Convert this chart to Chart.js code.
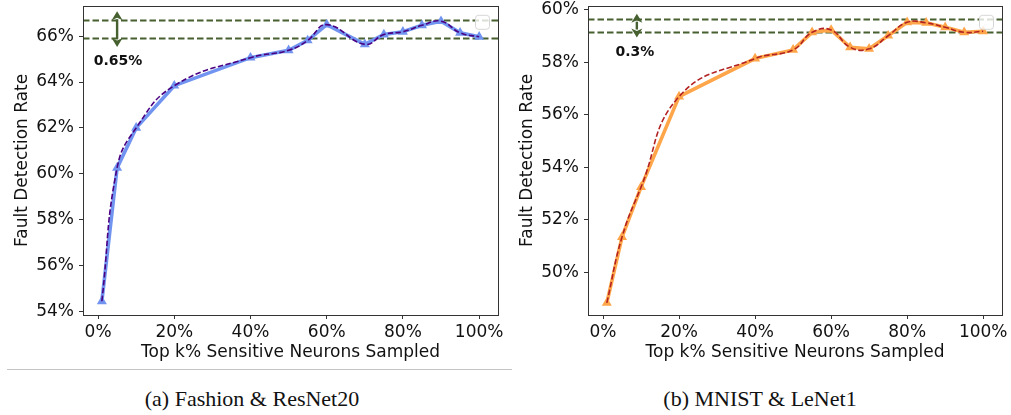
<!DOCTYPE html>
<html><head><meta charset="utf-8">
<script src="https://cdn.jsdelivr.net/npm/chart.js@4.4.1/dist/chart.umd.min.js"></script>
<style>
html,body{margin:0;padding:0;background:#fff;}
body{width:1011px;height:415px;position:relative;overflow:hidden;}
.box{position:absolute;top:0;height:370px;}
#wa{left:0;width:505px;}
#wb{left:505px;width:506px;}
.cap{position:absolute;top:386px;line-height:26px;font-family:"Liberation Serif",serif;font-size:22px;color:#111;white-space:nowrap;transform:translateX(-50%);}
.sep{position:absolute;left:7px;top:369px;width:505px;height:1px;background:#c4c4c4;}
</style></head>
<body>
<div class="box" id="wa"><canvas id="ca" width="505" height="370"></canvas></div>
<div class="box" id="wb"><canvas id="cb" width="506" height="370"></canvas></div>
<div class="sep"></div>
<div class="cap" style="left:252px">(a) Fashion &amp; ResNet20</div>
<div class="cap" style="left:760px">(b) MNIST &amp; LeNet1</div>
<script>
// ---- data ----
const xA = [1, 5, 10, 20, 40, 50, 55, 60, 70, 75, 80, 85, 90, 95, 100];
const yA = [54.45, 60.26, 62.0, 63.84, 65.06, 65.38, 65.81, 66.5, 65.64, 66.07, 66.19, 66.47, 66.65, 66.14, 65.97];
const xB = [1, 5, 10, 20, 40, 50, 55, 60, 65, 70, 75, 80, 85, 90, 95, 100];
const yB = [48.84, 51.35, 53.25, 56.70, 58.15, 58.48, 59.15, 59.24, 58.58, 58.52, 59.02, 59.53, 59.51, 59.34, 59.15, 59.19];
const bandA = [66.72, 65.93];
const bandB = [59.66, 59.17];
const gapLabelA = '0.65%';
const gapLabelB = '0.3%';
const xTickVals = [0, 20, 40, 60, 80, 100];
const yTickValsA = [54, 56, 58, 60, 62, 64, 66];
const yTickValsB = [50, 52, 54, 56, 58, 60];
const xTitle = 'Top k% Sensitive Neurons Sampled';
const yTitle = 'Fault Detection Rate';
// annotation anchors (data units)
const arrowA = {x: 5.0, y0: 67.08, y1: 65.53}, textA = {x: 5.25, y: 64.88};
const arrowB = {x: 8.9, y0: 59.86, y1: 58.95}, textB = {x: 8.4, y: 58.38};

Chart.defaults.font.family = '"DejaVu Sans", sans-serif';
Chart.defaults.font.size = 17;
Chart.defaults.color = '#111';

const GREEN = '#46602f';

function drawArrow(ctx, x, ya, yb) {
  ctx.save();
  ctx.strokeStyle = GREEN; ctx.fillStyle = GREEN; ctx.lineWidth = 2.4;
  const hl = 9, hw = 5.5;
  ctx.beginPath(); ctx.moveTo(x, ya + hl - 1); ctx.lineTo(x, yb - hl + 1); ctx.stroke();
  ctx.beginPath(); ctx.moveTo(x, ya); ctx.lineTo(x - hw, ya + hl); ctx.lineTo(x, ya + hl - 2.5); ctx.lineTo(x + hw, ya + hl); ctx.closePath(); ctx.fill();
  ctx.beginPath(); ctx.moveTo(x, yb); ctx.lineTo(x - hw, yb - hl); ctx.lineTo(x, yb - hl + 2.5); ctx.lineTo(x + hw, yb - hl); ctx.closePath(); ctx.fill();
  ctx.restore();
}

function makeChart(id, xs, ys, lineColor, curveColor, ymin, ymax, yTicks, band, arrow, text, label, padRight) {
  const pts = xs.map((x, i) => ({x: x, y: ys[i]}));
  const deco = {
    id: 'deco' + id,
    beforeDatasetsDraw(chart) {
      const {ctx, chartArea: a, scales: {y}} = chart;
      ctx.save();
      ctx.strokeStyle = GREEN; ctx.lineWidth = 1.8; ctx.setLineDash([6.5, 3]);
      band.forEach(v => {
        const py = Math.round(y.getPixelForValue(v)) + 0.5;
        ctx.beginPath(); ctx.moveTo(a.left, py); ctx.lineTo(a.right, py); ctx.stroke();
      });
      ctx.restore();
    },
    afterDatasetsDraw(chart) {
      const {ctx, chartArea: a, scales: {x, y}} = chart;
      drawArrow(ctx, x.getPixelForValue(arrow.x), y.getPixelForValue(arrow.y0), y.getPixelForValue(arrow.y1));
      ctx.save();
      ctx.font = 'bold 14px "DejaVu Sans"'; ctx.fillStyle = '#111';
      ctx.textAlign = 'center'; ctx.textBaseline = 'middle';
      ctx.fillText(label, x.getPixelForValue(text.x), y.getPixelForValue(text.y));
      // empty legend box
      ctx.strokeStyle = '#d6d6d6'; ctx.lineWidth = 1; ctx.fillStyle = 'rgba(255,255,255,0.8)';
      const lx = a.right - 22.5, ly = a.top + 9.5;
      ctx.beginPath(); ctx.roundRect(lx, ly, 14, 14, 3); ctx.fill(); ctx.stroke();
      // frame
      ctx.strokeStyle = '#333'; ctx.lineWidth = 1;
      ctx.strokeRect(Math.round(a.left) + 0.5, Math.round(a.top) + 0.5, Math.round(a.right - a.left), Math.round(a.bottom - a.top));
      ctx.restore();
    }
  };
  return new Chart(document.getElementById(id), {
    type: 'line',
    data: {datasets: [
      {data: pts, borderColor: curveColor, borderWidth: 1.6, borderDash: [5.5, 2.4], pointRadius: 0, tension: 0.45, fill: false, order: 0},
      {data: pts, borderColor: lineColor, borderWidth: 3.6, pointStyle: 'triangle', pointRadius: 5.8, pointBackgroundColor: lineColor, pointBorderWidth: 0, tension: 0, fill: false, order: 1}
    ]},
    options: {
      responsive: false, animation: false, devicePixelRatio: 1,
      layout: {padding: {left: 0, right: padRight, top: 5, bottom: 0}},
      plugins: {legend: {display: false}, tooltip: {enabled: false}},
      scales: {
        x: {
          type: 'linear', min: -3.95, max: 104.95,
          afterBuildTicks: s => { s.ticks = xTickVals.map(v => ({value: v})); },
          afterFit: s => { s.height = 55; s.paddingLeft = 0; s.paddingRight = 0; },
          grid: {drawOnChartArea: false, drawTicks: true, tickLength: 4, color: '#333'},
          border: {display: false},
          ticks: {padding: 3, color: '#111', callback: v => v + '%', maxRotation: 0, autoSkip: false},
          title: {display: true, text: xTitle, color: '#111', padding: {top: 0, bottom: 7}}
        },
        y: {
          min: ymin, max: ymax,
          afterBuildTicks: s => { s.ticks = yTicks.map(v => ({value: v})); },
          afterFit: s => { s.width = 83; s.paddingTop = 0; s.paddingBottom = 0; },
          grid: {drawOnChartArea: false, drawTicks: true, tickLength: 4, color: '#333'},
          border: {display: false},
          ticks: {padding: 5, color: '#111', callback: v => v + '%', autoSkip: false},
          title: {display: true, text: yTitle, color: '#111', padding: {top: 12, bottom: 0}}
        }
      }
    },
    plugins: [deco]
  });
}

makeChart('ca', xA, yA, '#7094ef', '#4b0082', 53.85, 67.32, yTickValsA, bandA, arrowA, textA, gapLabelA, 7);
makeChart('cb', xB, yB, '#ffa64a', '#b22222', 48.38, 60.16, yTickValsB, bandB, arrowB, textB, gapLabelB, 9);
</script>
</body></html>
